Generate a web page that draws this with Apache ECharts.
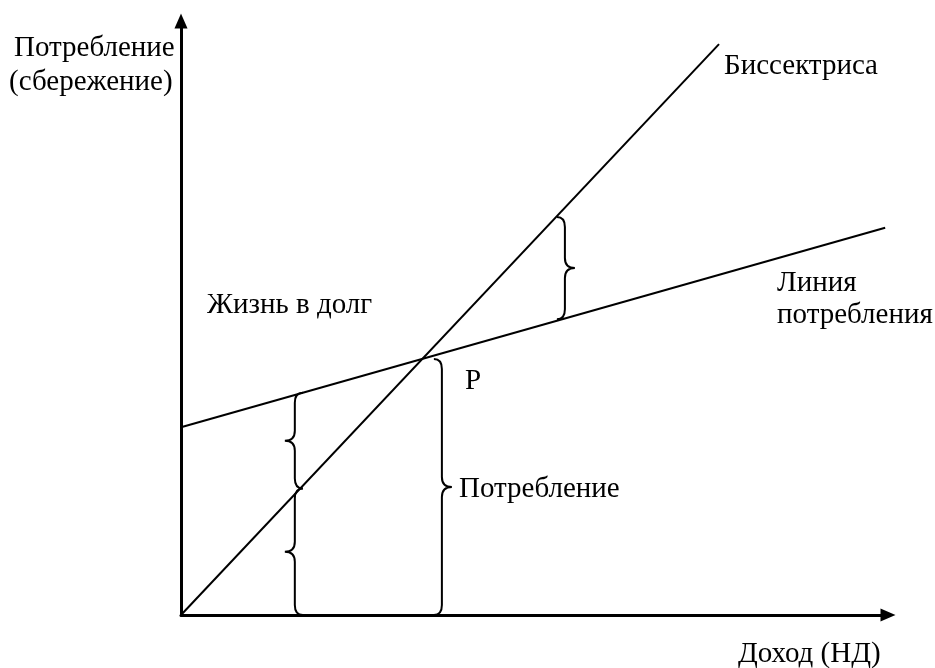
<!DOCTYPE html>
<html>
<head>
<meta charset="utf-8">
<script src="https://cdn.jsdelivr.net/npm/echarts@6/dist/echarts.min.js"></script>
<style>
  html, body { margin: 0; padding: 0; background: #fff; }
  #chart { width: 935px; height: 668px; }
</style>
</head>
<body>
<div id="chart"></div>
<script>
// доход (x) и потребление (y), условные единицы 0..100
var bisector = [[0, 0], [76.1, 96.1]];
var consumption = [[0, 31.6], [99.6, 65.2]];
// скобки: [x, верх, низ, направление острия (1 вправо, -1 влево)]
var braces = [
  [54.3, 67.0, 49.8, 1],
  [16.1, 37.4, 21.3, -1],
  [16.1, 21.3, 0, -1],
  [36.9, 43.1, 0, 1]
];
var labels = [
  { text: 'Потребление', x: 14, y: 48 },
  { text: '(сбережение)', x: 9, y: 82 },
  { text: 'Биссектриса', x: 724, y: 66 },
  { text: 'Линия', x: 777, y: 283 },
  { text: 'потребления', x: 777, y: 315 },
  { text: 'Жизнь в долг', x: 207, y: 305 },
  { text: 'P', x: 465, y: 381 },
  { text: 'Потребление', x: 459, y: 489 },
  { text: 'Доход (НД)', x: 738, y: 654 }
];

var font = '"Liberation Serif", "DejaVu Serif", serif';

function renderBrace(params, api) {
  var top = api.coord([api.value(0), api.value(1)]);
  var bot = api.coord([api.value(0), api.value(2)]);
  var d = api.value(3);
  var x = top[0], y1 = top[1], y2 = bot[1], ym = (y1 + y2) / 2;
  var w = 8, r = 10, t = 10;
  var p = 'M' + (x - d * w) + ' ' + y1 +
    ' Q' + x + ' ' + y1 + ' ' + x + ' ' + (y1 + r) +
    ' L' + x + ' ' + (ym - r) +
    ' Q' + x + ' ' + ym + ' ' + (x + d * t) + ' ' + ym +
    ' Q' + x + ' ' + ym + ' ' + x + ' ' + (ym + r) +
    ' L' + x + ' ' + (y2 - r) +
    ' Q' + x + ' ' + y2 + ' ' + (x - d * w) + ' ' + y2;
  return {
    type: 'path',
    shape: { pathData: p },
    style: { fill: 'none', stroke: '#000', lineWidth: 2 }
  };
}

var chart = echarts.init(document.getElementById('chart'));
var axisCommon = {
  type: 'value',
  min: 0,
  max: 100,
  axisLine: {
    show: true,
    symbol: ['none', 'triangle'],
    symbolSize: [13, 15],
    lineStyle: { color: '#000', width: 3 }
  },
  axisTick: { show: false },
  axisLabel: { show: false },
  splitLine: { show: false }
};

chart.setOption({
  animation: false,
  backgroundColor: '#fff',
  grid: { left: 181, right: 47, top: 21, bottom: 53 },
  xAxis: axisCommon,
  yAxis: axisCommon,
  series: [
    {
      type: 'line',
      data: bisector,
      symbol: 'none',
      lineStyle: { color: '#000', width: 2 }
    },
    {
      type: 'line',
      data: consumption,
      symbol: 'none',
      lineStyle: { color: '#000', width: 2 }
    },
    {
      type: 'custom',
      renderItem: renderBrace,
      encode: { x: 0, y: [1, 2] },
      data: braces
    }
  ],
  graphic: labels.map(function (l) {
    return {
      type: 'text',
      left: l.x,
      top: l.y - 14,
      style: {
        text: l.text,
        font: '29px ' + font,
        fill: '#000'
      }
    };
  })
});
</script>
</body>
</html>
